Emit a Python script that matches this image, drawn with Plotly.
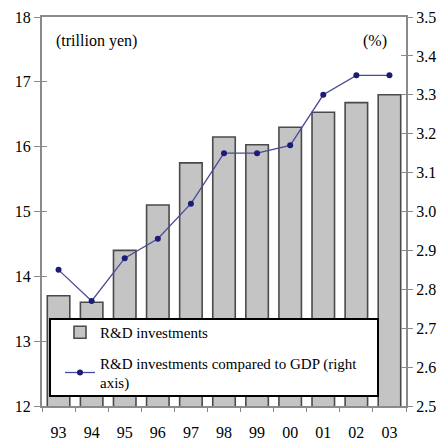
import plotly.graph_objects as go

years = ["93", "94", "95", "96", "97", "98", "99", "00", "01", "02", "03"]
rd_investments = [13.7, 13.6, 14.4, 15.1, 15.75, 16.15, 16.03, 16.3, 16.53, 16.68, 16.8]
rd_gdp_ratio = [2.85, 2.77, 2.88, 2.93, 3.02, 3.15, 3.15, 3.17, 3.30, 3.35, 3.35]

FONT = "Liberation Serif"
AX = "#8a8a8a"
L, R, T, B = 42, 406, 17, 406
PW, PH = R - L, B - T

fig = go.Figure()
fig.add_trace(go.Bar(
    x=years, y=rd_investments, name="R&D investments",
    marker=dict(color="#c4c4c4", line=dict(color="#4a4a4a", width=1.6)),
    width=0.68, yaxis="y", legendgroup="g1",
))
fig.add_trace(go.Scatter(
    x=years, y=rd_gdp_ratio, name="R&D investments compared to GDP (right<br>axis)",
    mode="lines+markers",
    line=dict(color="#4a4a96", width=1.3),
    marker=dict(color="#1c1c78", size=6),
    yaxis="y2", legendgroup="g2",
))

tf = dict(size=16, family=FONT, color="black")
fig.update_layout(
    width=445, height=443,
    margin=dict(l=L, r=445 - R, t=T, b=443 - B),
    paper_bgcolor="white", plot_bgcolor="white",
    font=dict(family=FONT, color="black", size=14),
    xaxis=dict(
        type="category", range=[-0.5, 10.5], automargin=False,
        showline=True, linecolor=AX, linewidth=2, mirror=True,
        ticks="outside", ticklen=4, tickcolor=AX, tickson="boundaries",
        ticklabelstandoff=11,
        showgrid=False, tickfont=tf,
    ),
    yaxis=dict(
        range=[12, 18], dtick=1, automargin=False,
        showline=True, linecolor=AX, linewidth=2,
        ticks="outside", ticklen=6, tickcolor=AX,
        showgrid=False, zeroline=False, tickfont=tf,
    ),
    yaxis2=dict(
        range=[2.5, 3.5], dtick=0.1, tickformat=".1f", automargin=False,
        overlaying="y", side="right",
        showline=True, linecolor=AX, linewidth=2,
        ticks="outside", ticklen=5, tickcolor=AX,
        showgrid=False, zeroline=False, tickfont=tf,
    ),
    yaxis3=dict(
        range=[12, 18], dtick=1, overlaying="y", side="left",
        ticks="inside", ticklen=5, tickcolor=AX, showticklabels=False,
        showline=False, showgrid=False, zeroline=False, automargin=False,
    ),
    yaxis4=dict(
        range=[2.5, 3.5], dtick=0.1, overlaying="y", side="right",
        ticks="inside", ticklen=5, tickcolor=AX, showticklabels=False,
        showline=False, showgrid=False, zeroline=False, automargin=False,
    ),
    showlegend=True,
    legend=dict(
        x=(60 - L) / PW, y=(B - 316) / PH, xanchor="left", yanchor="top",
        bgcolor="rgba(0,0,0,0)", borderwidth=0,
        font=dict(family=FONT, size=15),
        traceorder="grouped", tracegroupgap=8, itemwidth=30,
    ),
    shapes=[dict(
        type="rect", xref="paper", yref="paper",
        x0=(50 - L) / PW, x1=(378 - L) / PW,
        y0=(B - 396) / PH, y1=(B - 319) / PH,
        fillcolor="white", line=dict(color="black", width=2), layer="above",
    )],
    annotations=[
        dict(text="(trillion yen)", xref="paper", yref="paper",
             x=(54 - L) / PW, y=(B - 41) / PH, xanchor="left", yanchor="middle",
             showarrow=False, font=dict(family=FONT, size=16)),
        dict(text="(%)", xref="paper", yref="paper",
             x=(389 - L) / PW, y=(B - 41) / PH, xanchor="right", yanchor="middle",
             showarrow=False, font=dict(family=FONT, size=16)),
    ],
)

# invisible traces to activate the inside-tick overlay axes
fig.add_trace(go.Scatter(x=[years[0]], y=[12], yaxis="y3", mode="markers",
                         marker=dict(opacity=0), showlegend=False, hoverinfo="skip"))
fig.add_trace(go.Scatter(x=[years[0]], y=[2.5], yaxis="y4", mode="markers",
                         marker=dict(opacity=0), showlegend=False, hoverinfo="skip"))

fig.write_html(
    "out.html",
    config={"displayModeBar": False},
    post_script="document.body.style.margin='0';document.body.style.overflow='hidden';",
)
